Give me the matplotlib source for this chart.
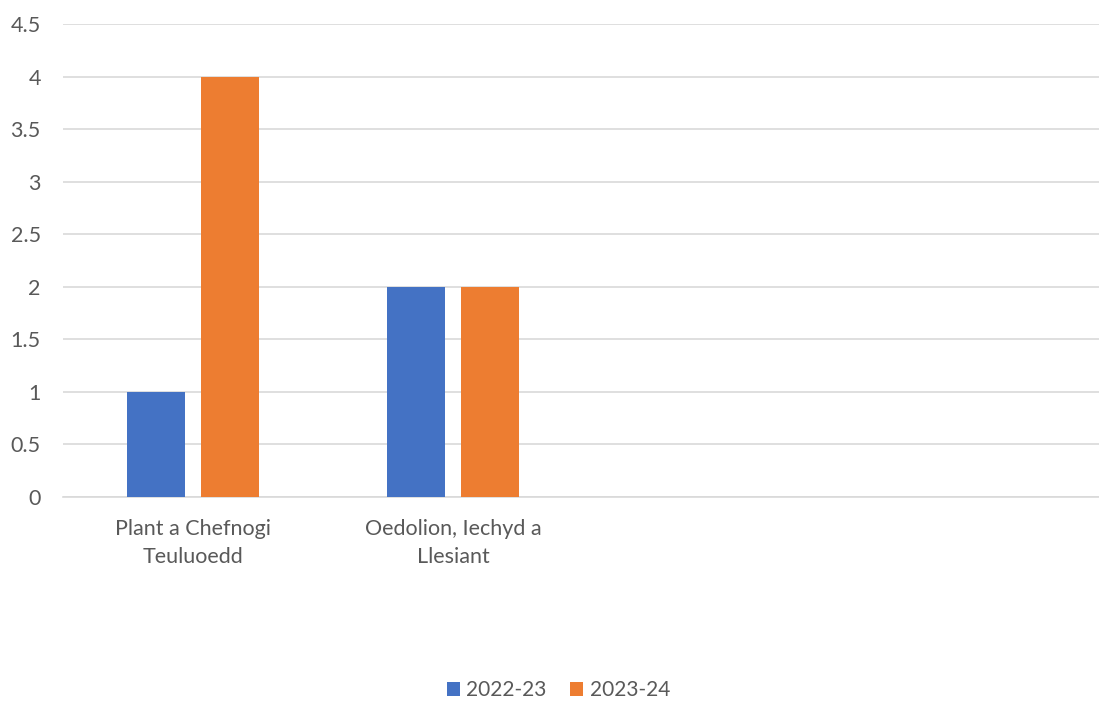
import matplotlib
matplotlib.use("Agg")
import matplotlib.pyplot as plt
import numpy as np

plt.rcParams['font.family'] = ['Lato', 'DejaVu Sans']

# data
categories = ["Plant a Chefnogi\nTeuluoedd", "Oedolion, Iechyd a\nLlesiant", "", ""]
series_names = ["2022-23", "2023-24"]
values_2022 = [1, 2, np.nan, np.nan]
values_2023 = [4, 2, np.nan, np.nan]
y_ticks = [0, 0.5, 1, 1.5, 2, 2.5, 3, 3.5, 4, 4.5]
y_tick_labels = ["0", "0.5", "1", "1.5", "2", "2.5", "3", "3.5", "4", "4.5"]

colors = ["#4472C4", "#ED7D31"]
text_col = "#595959"

W, H = 1099, 702
fig = plt.figure(figsize=(W / 100, H / 100), dpi=100)
# plot area runs slightly past the right edge of the picture, as in the reference
ax = fig.add_axes([63 / W, 1 - 497 / H, 1040 / W, (497 - 24) / H])

x = np.arange(len(categories))
w = 0.225
gap = 0.0615
ax.bar(x - (w + gap) / 2, values_2022, w, color=colors[0], label=series_names[0], zorder=3)
ax.bar(x + (w + gap) / 2, values_2023, w, color=colors[1], label=series_names[1], zorder=3)

ax.set_xlim(-0.5, len(categories) - 0.5)
ax.set_ylim(0, 4.5)
ax.set_yticks(y_ticks)
ax.set_yticklabels(y_tick_labels)
ax.set_xticks(x)
ax.set_xticklabels(categories, linespacing=1.5)
ax.tick_params(axis='both', length=0, labelsize=15.5, colors=text_col)
ax.tick_params(axis='x', pad=16)
ax.tick_params(axis='y', pad=16)

ax.grid(axis='y', color="#D9D9D9", lw=1.2, zorder=0)
for s in ['top', 'right', 'left']:
    ax.spines[s].set_visible(False)
ax.spines['bottom'].set_color("#D9D9D9")
ax.spines['bottom'].set_linewidth(1.2)

fig.legend(loc='center', bbox_to_anchor=(0.508, 1 - 690 / H), ncol=2, frameon=False,
           fontsize=15, labelcolor=text_col, handlelength=0.65, handleheight=0.65,
           handletextpad=0.3, columnspacing=1.1)

fig.savefig("out.png", dpi=100)
